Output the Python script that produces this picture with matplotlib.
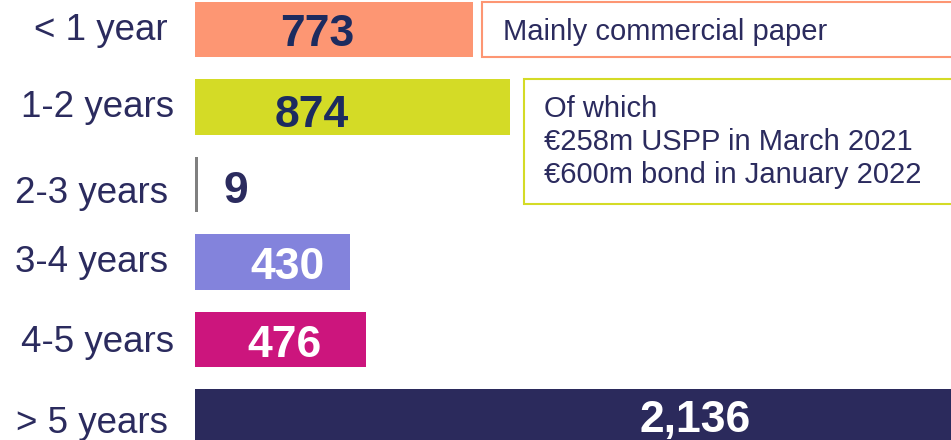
#!/usr/bin/env python3
"""Debt maturity profile: horizontal bars by maturity bucket with callout boxes."""

import matplotlib

matplotlib.use("Agg")
import matplotlib.pyplot as plt
from matplotlib.patches import Rectangle

plt.rcParams["font.family"] = ["Liberation Sans", "DejaVu Sans"]

# --- data -------------------------------------------------------------------
buckets = ["< 1 year", "1-2 years", "2-3 years", "3-4 years", "4-5 years", "> 5 years"]
amounts = [773, 874, 9, 430, 476, 2136]
value_labels = ["773", "874", "9", "430", "476", "2,136"]
note_short = "Mainly commercial paper"
note_long = ["Of which", "€258m USPP in March 2021", "€600m bond in January 2022"]

# --- styling ----------------------------------------------------------------
bar_colors = ["#FD9673", "#D4DB26", "#808080", "#8383DC", "#CC157D", "#2B2A5C"]
label_colors = ["#1C2B5F", "#1C2B5F", "#2B2B5E", "white", "white", "white"]
label_x = [339, 325, 114, 258, 250, 1389]  # where each value label sits along the bar
value_base_px = [16, 20, 18, 17, 17, 15]   # baseline offset below row centre
cat_base_px = [10, 10, 18, 10, 12, 16]
cat_right_px = [168, 174, 168, 168, 174, 168]
text_color = "#2B2B5E"

W, H, DPI = 951, 440, 100
fig = plt.figure(figsize=(W / DPI, H / DPI), dpi=DPI)
left_px = 195
ax = fig.add_axes([left_px / W, 0, 1 - left_px / W, 1])

px_per_unit = 0.36
row_px = 77.5
top_px = 29.5
ax.set_xlim(0, (W - left_px) / px_per_unit)
ax.set_ylim((H - top_px) / row_px, -top_px / row_px)


def to_x(px):
    return (px - left_px) / px_per_unit


def to_y(px):
    return (px - top_px) / row_px


ypos = list(range(len(buckets)))
ax.barh(ypos, amounts, height=0.71, color=bar_colors, edgecolor="none")

for y, lx, txt, col, off in zip(ypos, label_x, value_labels, label_colors, value_base_px):
    ax.text(lx, y + off / row_px, txt, ha="center", va="baseline", fontsize=32,
            fontweight="bold", color=col)

# bucket names, right aligned just left of the bars
for y, name, off, rx in zip(ypos, buckets, cat_base_px, cat_right_px):
    ax.text(to_x(rx), y + off / row_px, name, ha="right", va="baseline",
            fontsize=26.5, color=text_color, clip_on=False)

ax.set_yticks([])
ax.set_xticks([])
for s in ax.spines.values():
    s.set_visible(False)

# callout next to the short-term bucket
ax.add_patch(Rectangle((to_x(482), to_y(1.5)), to_x(1000) - to_x(482),
                       to_y(56.5) - to_y(1.5), facecolor="white",
                       edgecolor="#FD9673", linewidth=1.5))
ax.text(to_x(503), to_y(40), note_short, fontsize=21, color=text_color,
        va="baseline", ha="left")

# callout next to the 1-2 year bucket
ax.add_patch(Rectangle((to_x(524), to_y(78.5)), to_x(1000) - to_x(524),
                       to_y(204) - to_y(78.5), facecolor="white",
                       edgecolor="#D4DB26", linewidth=1.5))
for i, line in enumerate(note_long):
    ax.text(to_x(544), to_y(117 + 33 * i), line, fontsize=21,
            color=text_color, va="baseline", ha="left")

fig.savefig("out.png", dpi=DPI)
